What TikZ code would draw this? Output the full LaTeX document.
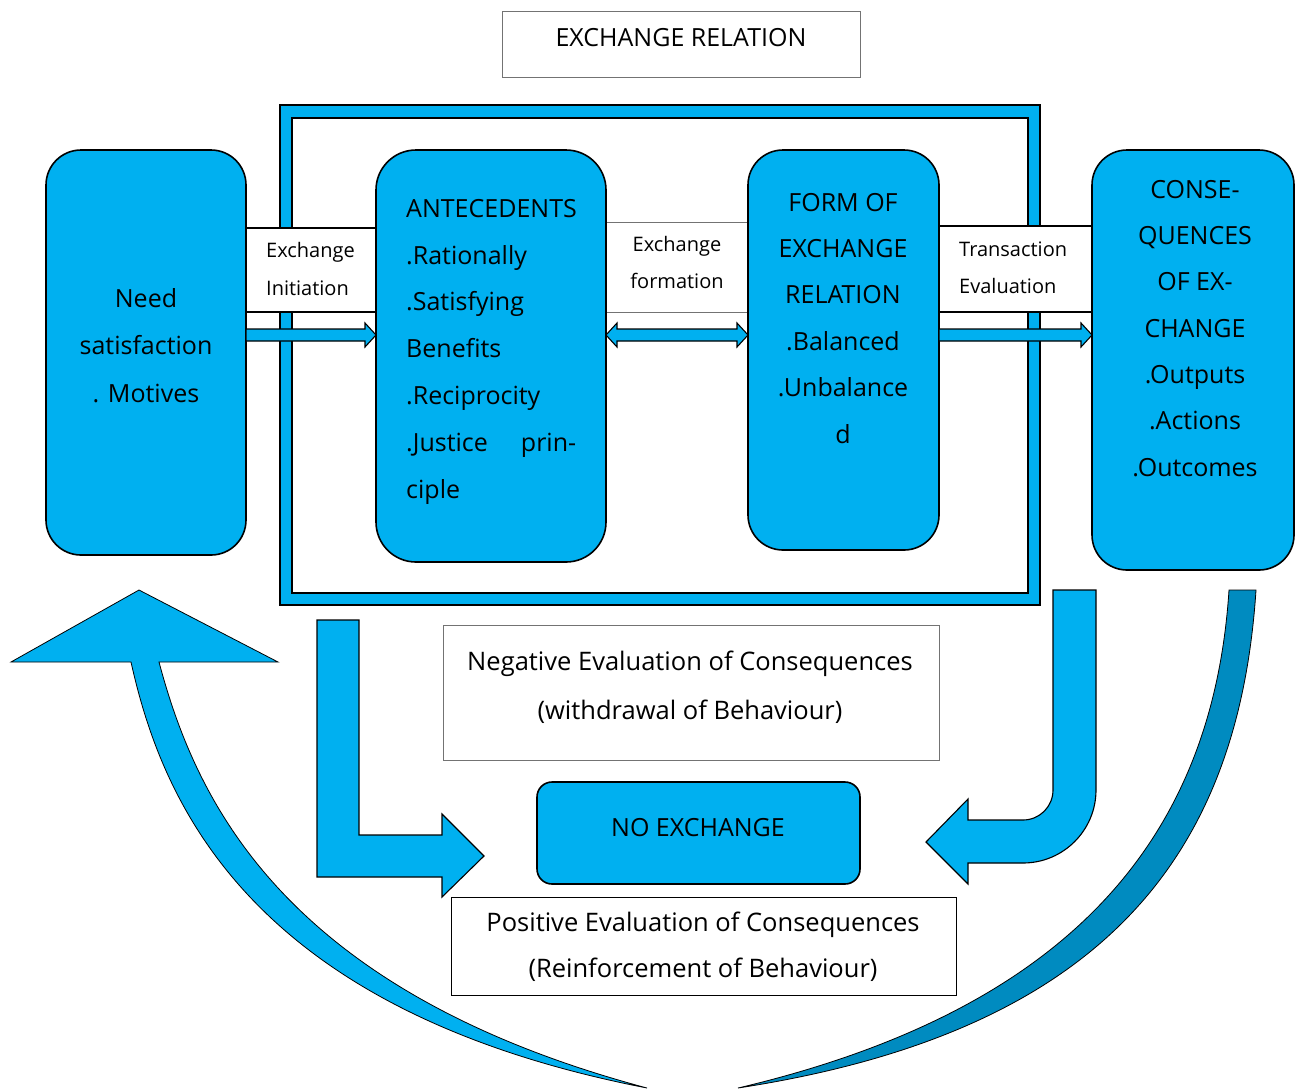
\documentclass[tikz,border=0pt]{standalone}
\usepackage{fontspec}
\setmainfont{Open Sans}
\usetikzlibrary{calc}
\definecolor{boxblue}{RGB}{0,176,240}
\definecolor{darkblue}{RGB}{0,139,192}
\begin{document}
\begin{tikzpicture}[x=1pt,y=-1pt,
  bluebox/.style={draw=black, line width=1.6pt, fill=boxblue, rounded corners=35pt, inner sep=0pt, outer sep=0pt, anchor=north west},
  lblbox/.style={draw=black, line width=1.4pt, fill=white, inner sep=0pt, outer sep=0pt, anchor=north west},
  graybox/.style={draw=black!55, line width=1pt, fill=white, inner sep=0pt, outer sep=0pt, anchor=north west},
  blackbox/.style={draw=black, line width=1pt, fill=white, inner sep=0pt, outer sep=0pt, anchor=north west},
  blk/.style={draw=black, line width=1.1pt, fill=boxblue, line join=miter},
  curveL/.style={draw=black, line width=0.8pt, fill=boxblue},
  curveD/.style={draw=black, line width=0.8pt, fill=darkblue},
  bigtxt/.style={inner sep=0pt, font=\fontsize{25}{46.5}\selectfont},
  smalltxt/.style={inner sep=0pt, font=\fontsize{20}{37.5}\selectfont}
]
\useasboundingbox (0,0) rectangle (1295,1088);

% big curved arrow (back part, darker)
\draw[curveD] (1229,590) -- (1256,590) .. controls (1239,849) and (1110,1031) .. (738,1088)
  .. controls (1090,1005) and (1214,820) .. (1229,590) -- cycle;
% big curved arrow (front part with head)
\draw[curveL] (11,662) -- (139,590) -- (278,662) -- (159,662)
  .. controls (195,797) and (280,990) .. (647,1088)
  .. controls (246,1010) and (161.5,799) .. (131,662) -- cycle;

% outer double frame
\draw[line width=1.5pt, fill=boxblue] (280,105) rectangle (1040,605);
\draw[line width=1.8pt, fill=white] (292,118) rectangle (1028,593);

% title
\node[graybox, minimum width=358pt, minimum height=66pt] (titlebox) at (502,11) {};
\node[bigtxt, anchor=base] (title) at (681,46) {EXCHANGE RELATION};

% label boxes
\node[lblbox, minimum width=130pt, minimum height=84pt] (lab1) at (246,228) {};
\node[graybox, minimum width=142pt, minimum height=90pt] (lab2) at (606,222) {};
\node[lblbox, minimum width=153pt, minimum height=86pt] (lab3) at (939,226) {};
\node[smalltxt, anchor=base west, align=left, font=\fontsize{20}{38}\selectfont] (lab1t) at (266,295) {Exchange\\Initiation};
\node[smalltxt, anchor=base, align=center, font=\fontsize{20}{37}\selectfont] (lab2t) at (677,288) {Exchange\\formation};
\node[smalltxt, anchor=base west, align=left, font=\fontsize{20}{37}\selectfont] (lab3t) at (959,293) {Transaction\\Evaluation};

% main boxes
\node[bluebox, minimum width=200pt, minimum height=405pt] (need) at (46,150) {};
\node[bluebox, minimum width=230pt, minimum height=412pt, rounded corners=40pt] (ante) at (376,150) {};
\node[bluebox, minimum width=191pt, minimum height=400pt] (form) at (748,150) {};
\node[bluebox, minimum width=202pt, minimum height=420pt] (cons) at (1092,150) {};

\node[bigtxt, anchor=base, align=center, font=\fontsize{25}{47.5}\selectfont] (needt) at (146,402) {Need\\satisfaction\\. Motives};
\node[bigtxt, anchor=base west, align=left, font=\fontsize{25}{46.8}\selectfont] (antet) at (406,498)
  {ANTECEDENTS\\.Rationally\\.Satisfying\\Benefits\\.Reciprocity\\\makebox[170pt][l]{.Justice\hfill prin-}\\ciple};
\node[bigtxt, anchor=base, align=center, font=\fontsize{25}{46.4}\selectfont] (formt) at (843,443) {FORM OF\\EXCHANGE\\RELATION\\.Balanced\\.Unbalance\\d};
\node[bigtxt, anchor=base, align=center, font=\fontsize{25}{46.3}\selectfont] (const) at (1195,476) {CONSE-\\QUENCES\\OF EX-\\CHANGE\\.Outputs\\.Actions\\.Outcomes};

% connectors between boxes
\coordinate (row) at (0,335);
\draw[blk] ($(need.east|-row)+(0,-6)$) -- ($(ante.west|-row)+(-11,-6)$) -- ++(0,-6) -- (ante.west|-row)
  -- ++(-11,12) -- ++(0,-6) -- ($(need.east|-row)+(0,6)$) -- cycle;
\draw[blk] (ante.east|-row) -- ++(11,-12) -- ++(0,6) -- ($(form.west|-row)+(-11,-6)$) -- ++(0,-6)
  -- (form.west|-row) -- ++(-11,12) -- ++(0,-6) -- ($(ante.east|-row)+(11,6)$) -- ++(0,6) -- cycle;
\draw[blk] ($(form.east|-row)+(0,-6)$) -- ($(cons.west|-row)+(-11,-6)$) -- ++(0,-6) -- (cons.west|-row)
  -- ++(-11,12) -- ++(0,-6) -- ($(form.east|-row)+(0,6)$) -- cycle;

% lower boxes
\node[graybox, minimum width=496pt, minimum height=135pt] (negbox) at (443,625) {};
\node[bigtxt, anchor=base, align=center, font=\fontsize{25.5}{49}\selectfont] (negt) at (690,719)
  {Negative Evaluation of Consequences\\(withdrawal of Behaviour)};
\node[bluebox, minimum width=323pt, minimum height=102pt, rounded corners=15pt] (noex) at (537,782) {};
\node[bigtxt, anchor=base] (noext) at (698,836) {NO EXCHANGE};
\node[blackbox, minimum width=505pt, minimum height=98pt] (posbox) at (451,897) {};
\node[bigtxt, anchor=base, align=center, font=\fontsize{25.5}{46}\selectfont] (post) at (703,977)
  {Positive Evaluation of Consequences\\(Reinforcement of Behaviour)};

% L-shaped arrow (left)
\draw[blk] (317,620) -- (359,620) -- (359,835) -- (442,835) -- (442,814) -- (484,856)
  -- (442,897) -- (442,877) -- (317,877) -- cycle;
% J-shaped arrow (right)
\draw[blk] (1053,590) -- (1096,590) -- (1096,790) .. controls (1096,830.3) and (1063.3,863) .. (1023,863)
  -- (968,863) -- (968,884) -- (926,842) -- (968,799) -- (968,820) -- (1023,820)
  .. controls (1039.6,820) and (1053,806.6) .. (1053,790) -- cycle;
\end{tikzpicture}
\end{document}
